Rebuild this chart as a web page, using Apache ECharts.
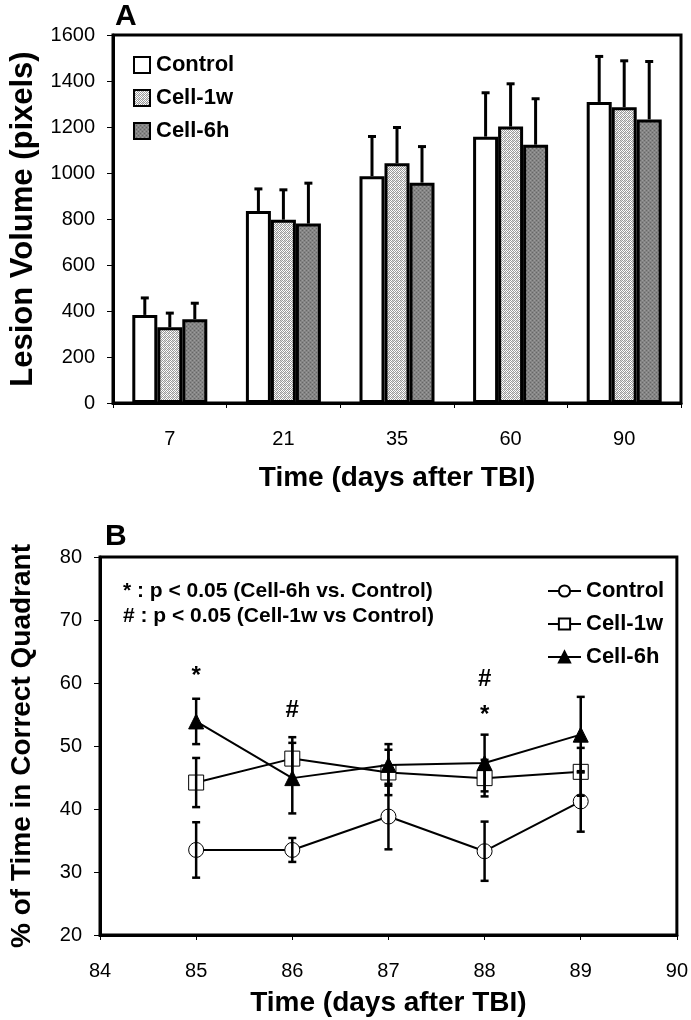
<!DOCTYPE html>
<html><head><meta charset="utf-8">
<script src="https://cdn.jsdelivr.net/npm/echarts@6/dist/echarts.min.js"></script>
<style>html,body{margin:0;padding:0;background:#fff}#c{width:691px;height:1020px}</style>
</head><body><div id="c"></div>
<script>
// ---------- Panel A data ----------
const daysA = ['7', '21', '35', '60', '90'];
const namesA = ['Control', 'Cell-1w', 'Cell-6h'];
const controlA = [383, 835, 986, 1158, 1309];
const controlAErr = [76, 98, 175, 193, 200];
const cell1wA = [329, 797, 1042, 1202, 1286];
const cell1wAErr = [64, 132, 158, 188, 204];
const cell6hA = [364, 780, 958, 1123, 1233];
const cell6hAErr = [72, 178, 159, 202, 254];
const yTicksA = { min: 0, max: 1600, interval: 200 };

// ---------- Panel B data ----------
const namesB = ['Control', 'Cell-1w', 'Cell-6h'];
const daysB = [85, 86, 87, 88, 89];
const controlB = [33.5, 33.5, 38.8, 33.3, 41.2];
const controlBErr = [4.4, 1.9, 5.2, 4.7, 4.8];
const cell1wB = [44.2, 48.0, 45.8, 44.9, 45.9];
const cell1wBErr = [3.9, 3.4, 3.6, 2.9, 3.8];
const cell6hB = [53.9, 44.9, 47.0, 47.3, 51.8];
const cell6hBErr = [3.6, 5.6, 3.3, 4.5, 6.0];
const sigMarks = [[85, 61.0, '*'], [86, 55.6, '#'], [88, 60.5, '#'], [88, 54.9, '*']];
const noteLines = ['* : p < 0.05 (Cell-6h vs. Control)', '# : p < 0.05 (Cell-1w vs Control)'];
const xTicksB = { min: 84, max: 90, interval: 1 };
const yTicksB = { min: 20, max: 80, interval: 10 };

// ---------- styling ----------
const FONT = '"Liberation Sans", Arial, sans-serif';
const BAR_W = 25;

function makePattern(bg, fg, size, draw) {
  const c = document.createElement('canvas');
  c.width = size; c.height = size;
  const g = c.getContext('2d');
  g.fillStyle = bg; g.fillRect(0, 0, size, size);
  g.fillStyle = fg;
  draw(g);
  return { image: c, repeat: 'repeat' };
}
const hatchLight = makePattern('#ffffff', '#9a9a9a', 4, g => {
  g.fillRect(0, 0, 1, 1); g.fillRect(2, 0, 1, 1);
  g.fillRect(1, 1, 1, 1); g.fillRect(3, 1, 1, 1);
  g.fillRect(0, 2, 1, 1); g.fillRect(2, 2, 1, 1);
  g.fillRect(1, 3, 1, 1); g.fillRect(3, 3, 1, 1);
  g.fillStyle = '#d8d8d8';
  g.fillRect(1, 0, 1, 1); g.fillRect(0, 1, 1, 1);
});
const hatchDark = makePattern('#858585', '#666666', 4, g => {
  g.fillRect(0, 0, 1, 1); g.fillRect(2, 2, 1, 1);
  g.fillStyle = '#9c9c9c';
  g.fillRect(2, 0, 1, 1); g.fillRect(0, 2, 1, 1);
});
const fillsA = ['#ffffff', hatchLight, hatchDark];

const valsA = [controlA, cell1wA, cell6hA];
const errsA = [controlAErr, cell1wAErr, cell6hAErr];
const valsB = [controlB, cell1wB, cell6hB];
const errsB = [controlBErr, cell1wBErr, cell6hBErr];

const series = [];
namesA.forEach((n, k) => {
  series.push({
    name: n, type: 'bar', xAxisIndex: 0, yAxisIndex: 0,
    barWidth: BAR_W, barGap: '0%',
    data: valsA[k],
    itemStyle: { color: fillsA[k], borderColor: '#000', borderWidth: 3 },
    silent: true, z: 2
  });
});
namesA.forEach((n, k) => {
  series.push({
    type: 'custom', xAxisIndex: 0, yAxisIndex: 0, z: 1, silent: true,
    data: valsA[k].map((v, i) => [i, v, v + errsA[k][i]]),
    renderItem(params, api) {
      const p0 = api.coord([api.value(0), api.value(1)]);
      const p1 = api.coord([api.value(0), api.value(2)]);
      const x = p0[0] + (k - 1) * BAR_W;
      return { type: 'group', children: [
        { type: 'line', shape: { x1: x, y1: p0[1], x2: x, y2: p1[1] }, style: { stroke: '#000', lineWidth: 3 } },
        { type: 'line', shape: { x1: x - 4, y1: p1[1] + 0.5, x2: x + 4, y2: p1[1] + 0.5 }, style: { stroke: '#000', lineWidth: 3 } }
      ] };
    }
  });
});

const symB = [
  { symbol: 'circle', symbolSize: 15, itemStyle: { color: '#fff', borderColor: '#000', borderWidth: 1 } },
  { symbol: 'rect', symbolSize: 15, itemStyle: { color: '#fff', borderColor: '#000', borderWidth: 1 } },
  { symbol: 'triangle', symbolSize: 15, itemStyle: { color: '#000', borderColor: '#000', borderWidth: 1 } }
];
namesB.forEach((n, k) => {
  series.push(Object.assign({
    name: 'B:' + n, type: 'line', xAxisIndex: 1, yAxisIndex: 1,
    data: daysB.map((d, i) => [d, valsB[k][i]]),
    lineStyle: { color: '#000', width: 2 },
    showSymbol: true, silent: true, z: 3 + k
  }, symB[k]));
});
namesB.forEach((n, k) => {
  series.push({
    type: 'custom', xAxisIndex: 1, yAxisIndex: 1, z: 8, silent: true,
    data: daysB.map((d, i) => [d, valsB[k][i] - errsB[k][i], valsB[k][i] + errsB[k][i]]),
    renderItem(params, api) {
      const a = api.coord([api.value(0), api.value(1)]);
      const b = api.coord([api.value(0), api.value(2)]);
      const st = { stroke: '#000', lineWidth: 2.5 };
      return { type: 'group', children: [
        { type: 'line', shape: { x1: a[0], y1: a[1], x2: b[0], y2: b[1] }, style: st },
        { type: 'line', shape: { x1: a[0] - 4, y1: a[1], x2: a[0] + 4, y2: a[1] }, style: st },
        { type: 'line', shape: { x1: b[0] - 4, y1: b[1], x2: b[0] + 4, y2: b[1] }, style: st }
      ] };
    }
  });
});
series.push({
  type: 'custom', xAxisIndex: 1, yAxisIndex: 1, z: 9, silent: true,
  data: sigMarks,
  renderItem(params, api) {
    const p = api.coord([api.value(0), api.value(1)]);
    return { type: 'text', x: p[0], y: p[1], style: {
      text: sigMarks[params.dataIndex][2], fill: '#000',
      font: 'bold 24px ' + FONT, align: 'center', verticalAlign: 'middle' } };
  }
});

const axisLabelStyle = { color: '#000', fontSize: 20, fontFamily: FONT, formatter: v => String(v) };
const titleStyle = { color: '#000', fontSize: 28, fontWeight: 'bold', fontFamily: FONT };
const titleStyleYA = { color: '#000', fontSize: 31, fontWeight: 'bold', fontFamily: FONT };
const blackLine = { lineStyle: { color: '#000', width: 3 } };

const option = {
  backgroundColor: '#fff',
  animation: false,
  grid: [
    { left: 109, top: 35, width: 572, height: 368, show: true, borderColor: '#000', borderWidth: 3, backgroundColor: 'transparent' },
    { left: 98, top: 557, width: 581, height: 378, show: true, borderColor: '#000', borderWidth: 3, backgroundColor: 'transparent' }
  ],
  xAxis: [
    { type: 'category', gridIndex: 0, data: daysA,
      axisLine: blackLine, axisTick: { show: true, length: 5, lineStyle: { color: '#000', width: 1 } },
      axisLabel: Object.assign({ margin: 26 }, axisLabelStyle),
      name: 'Time (days after TBI)', nameLocation: 'middle', nameGap: 61, nameTextStyle: titleStyle,
      splitLine: { show: false } },
    { type: 'value', gridIndex: 1, min: xTicksB.min, max: xTicksB.max, interval: xTicksB.interval,
      axisLine: blackLine, axisTick: { show: true, length: 5, lineStyle: { color: '#000', width: 1 } },
      axisLabel: Object.assign({ margin: 26 }, axisLabelStyle),
      name: 'Time (days after TBI)', nameLocation: 'middle', nameGap: 54, nameTextStyle: titleStyle,
      splitLine: { show: false } }
  ],
  yAxis: [
    { type: 'value', gridIndex: 0, min: yTicksA.min, max: yTicksA.max, interval: yTicksA.interval,
      axisLine: Object.assign({ show: true }, blackLine), axisTick: { show: true, length: 6, lineStyle: { color: '#000', width: 1 } },
      axisLabel: Object.assign({ margin: 18 }, axisLabelStyle),
      name: 'Lesion Volume (pixels)', nameLocation: 'middle', nameGap: 74, nameRotate: 90, nameTextStyle: titleStyleYA,
      splitLine: { show: false } },
    { type: 'value', gridIndex: 1, min: yTicksB.min, max: yTicksB.max, interval: yTicksB.interval,
      axisLine: Object.assign({ show: true }, blackLine), axisTick: { show: true, length: 6, lineStyle: { color: '#000', width: 1 } },
      axisLabel: Object.assign({ margin: 18 }, axisLabelStyle),
      name: '% of Time in Correct Quadrant', nameLocation: 'middle', nameGap: 64, nameRotate: 90, nameTextStyle: titleStyle,
      splitLine: { show: false } }
  ],
  legend: [
    { data: namesA, orient: 'vertical', left: 128, top: 49, itemWidth: 16, itemHeight: 16, itemGap: 11,
      icon: 'rect', selectedMode: false,
      itemStyle: { borderWidth: 2, borderColor: '#000' },
      textStyle: { color: '#000', fontSize: 22, fontWeight: 'bold', fontFamily: FONT, padding: [0, 0, 0, 1] } },
    { data: namesB.map(n => 'B:' + n), orient: 'vertical', left: 542, top: 575, itemWidth: 33, itemHeight: 14, itemGap: 11,
      selectedMode: false,
      formatter: n => n.replace(/^B:/, ''),
      textStyle: { color: '#000', fontSize: 22, fontWeight: 'bold', fontFamily: FONT } }
  ],
  graphic: [
    { type: 'text', left: 115, top: 2, style: { text: 'A', font: 'bold 30px ' + FONT, fill: '#000' } },
    { type: 'text', left: 105, top: 522, style: { text: 'B', font: 'bold 30px ' + FONT, fill: '#000' } },
    { type: 'text', left: 123, top: 581, style: { text: noteLines[0], font: 'bold 21px ' + FONT, fill: '#000' } },
    { type: 'text', left: 123, top: 606, style: { text: noteLines[1], font: 'bold 21px ' + FONT, fill: '#000' } }
  ],
  series: series
};
const chart = echarts.init(document.getElementById('c'), null, { renderer: 'canvas' });
chart.setOption(option);
</script></body></html>
